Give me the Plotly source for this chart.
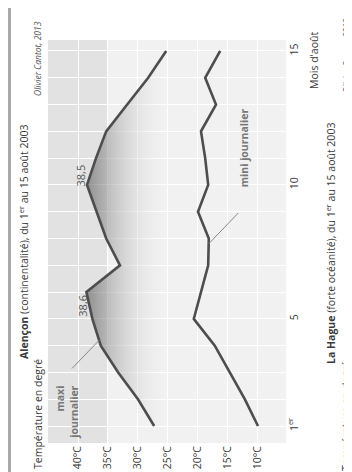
import plotly.graph_objects as go

# ---------------- data ----------------
days = list(range(1, 16))
tmax_alencon = [27.3, 30.0, 33.3, 36.2, 37.6, 38.6, 33.0, 35.3, 36.9, 38.5, 37.0, 35.3, 31.8, 28.3, 25.3]
tmin_hague = [10.0, 12.2, 14.7, 17.2, 20.7, 19.5, 18.3, 18.2, 20.0, 18.3, 18.8, 19.5, 17.0, 18.8, 16.3]
temp_ticks = [10, 15, 20, 25, 30, 35, 40]
temp_labels = [f"{t}°C" for t in temp_ticks]
day_ticks = [1, 5, 10, 15]
day_labels = ["1<sup>er</sup>", "5", "10", "15"]
peak_labels = {6: "38,6", 10: "38,5"}

title_top = "<b>Alençon</b> (continentalité), du 1<sup>er</sup> au 15 août 2003"
title_bottom = "<b>La Hague</b> (forte océanité), du 1<sup>er</sup> au 15 août 2003"
credit = "<i>Olivier Cantot, 2013</i>"
unit_title = "Température en degré"
x_title = "Mois d'août"

# ---------------- geometry ----------------
W, H = 352, 472
FONT = "Open Sans, Noto Sans, sans-serif"
TXT = "#3a3a3a"


def px(x):
    return x / W


def py(y):
    return 1 - y / H


def interp(vals, d):
    i = int(d) - 1
    f = d - int(d)
    return vals[i] + f * (vals[i + 1] - vals[i])


fig = go.Figure()

# max curve with gradient fill toward lower temperatures
fig.add_trace(go.Scatter(
    x=tmax_alencon, y=days, mode="lines",
    line=dict(color="#4d4d4d", width=2.6),
    fill="tozerox",
    fillgradient=dict(type="horizontal", start=25.5, stop=39.0,
                      colorscale=[[0, "rgba(230,230,230,0)"],
                                  [1, "rgba(115,115,115,0.8)"]]),
    hoverinfo="skip", showlegend=False,
))
fig.add_trace(go.Scatter(
    x=tmin_hague, y=days, mode="lines",
    line=dict(color="#4d4d4d", width=2.6),
    hoverinfo="skip", showlegend=False,
))

shapes = [
    # dark band for hottest temperatures
    dict(type="rect", xref="x", yref="y domain", x0=45, x1=35, y0=0, y1=1,
         fillcolor="#e2e2e2", line=dict(width=0), layer="below"),
    # left page rule
    dict(type="rect", xref="paper", yref="paper", x0=0, x1=px(3), y0=0, y1=1,
         fillcolor="#a8a8a8", line=dict(width=0)),
    # pointer for maxi journalier
    dict(type="line", xref="x", yref="y", x0=41.0, y0=3.15,
         x1=interp(tmax_alencon, 4.2), y1=4.2,
         line=dict(color="#888", width=1)),
    # pointer for mini journalier
    dict(type="line", xref="x", yref="y", x0=13.3, y0=8.95,
         x1=interp(tmin_hague, 7.8), y1=7.8,
         line=dict(color="#888", width=1)),
]

ann = []


def add_text(text, x, y, size, color=TXT, xref="paper", yref="paper", align="center"):
    ann.append(dict(text=text, x=x, y=y, xref=xref, yref=yref, showarrow=False,
                    textangle=-90, xanchor="center", yanchor="middle", align=align,
                    borderpad=0,
                    font=dict(family=FONT, size=size, color=color)))


add_text(title_top, px(15), py(234), 10.5)
add_text(credit, px(30), py(50), 8.5, color="#555")
add_text(unit_title, px(30), py(406), 10.5)
add_text(x_title, px(306), py(53), 10.5)
add_text(title_bottom, px(322), py(236), 10.5)
add_text(unit_title, px(338), py(408), 10.5)
add_text(credit, px(339), py(48), 8.5, color="#555")

add_text(peak_labels[6], 39.3, 5.5, 11, color="#555", xref="x", yref="y")
add_text(peak_labels[10], 39.5, 10.35, 11, color="#555", xref="x", yref="y")
add_text("<b>maxi<br>journalier</b>", 41.83, 1.5, 10.5, color="#777", xref="x", yref="y", align="right")
add_text("<b>mini journalier</b>", 12.2, 11.4, 10.5, color="#777", xref="x", yref="y")

fig.update_layout(
    width=W, height=H,
    margin=dict(l=0, r=0, t=0, b=0),
    paper_bgcolor="white",
    plot_bgcolor="#f1f1f1",
    font=dict(family=FONT, size=11, color=TXT),
    shapes=shapes,
    annotations=ann,
    xaxis=dict(
        range=[45, 5.33], domain=[px(40), px(278)],
        tickvals=temp_ticks, ticktext=temp_labels, tickangle=-90,
        showgrid=True, gridcolor="white", gridwidth=1,
        zeroline=False, showline=False, ticks="", automargin=False,
        tickfont=dict(size=10.5, color=TXT),
    ),
    yaxis=dict(
        range=[0.366, 15.41], domain=[py(435), py(32)], side="right",
        tickvals=day_ticks, ticktext=day_labels, tickangle=-90,
        showgrid=False,
        zeroline=False, showline=False, ticks="", automargin=False,
        tickfont=dict(size=10.5, color=TXT),
    ),
    yaxis2=dict(
        range=[0.366, 15.41], domain=[py(435), py(32)], overlaying="y",
        tickvals=days, showticklabels=False,
        showgrid=True, gridcolor="white", gridwidth=1,
        zeroline=False, showline=False, ticks="", automargin=False,
    ),
)
# invisible trace so the per-day grid axis is drawn
fig.add_trace(go.Scatter(x=[tmin_hague[0]], y=[days[0]], yaxis="y2", mode="markers",
                         marker=dict(opacity=0), hoverinfo="skip", showlegend=False))

fig.write_html("out.html")
